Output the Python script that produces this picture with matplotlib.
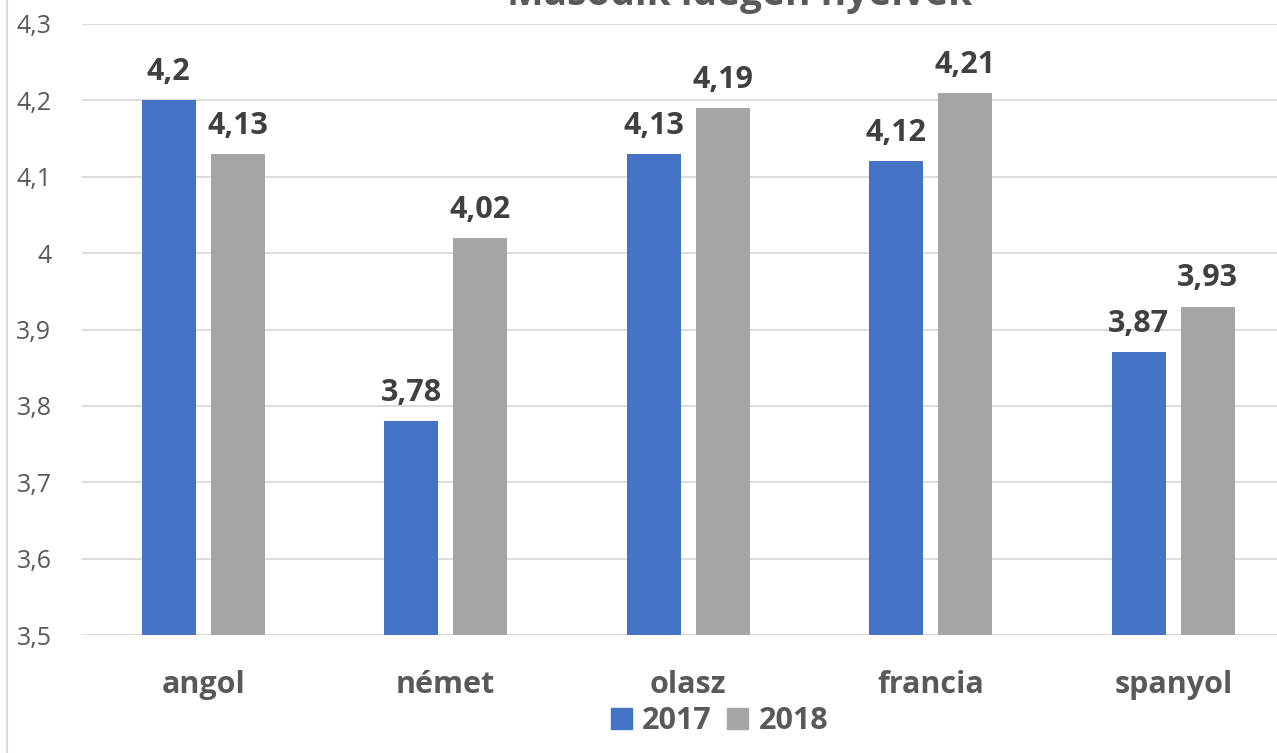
import matplotlib
matplotlib.use('Agg')
import matplotlib.pyplot as plt
from matplotlib.lines import Line2D
from matplotlib.patches import Patch
from matplotlib.ticker import FuncFormatter, MultipleLocator
import numpy as np

plt.rcParams['font.family'] = ['Open Sans', 'DejaVu Sans']

# Data
categories = ['angol', 'német', 'olasz', 'francia', 'spanyol']
years = ['2017', '2018']
values_2017 = [4.2, 3.78, 4.13, 4.12, 3.87]
values_2018 = [4.13, 4.02, 4.19, 4.21, 3.93]
title = 'Második idegen nyelvek'

colors = ['#4472C4', '#A5A5A5']
label_col = '#404040'
axis_col = '#595959'
grid_col = '#D9D9D9'

def hu(v):
    # Hungarian decimal comma
    return f'{round(v, 2):g}'.replace('.', ',')

fig = plt.figure(figsize=(12.77, 7.53), dpi=100)
ax = fig.add_axes([82 / 1277, 118 / 753, 1 - 82 / 1277, (729 - 118) / 753])

x = np.arange(len(categories))
width = 0.223
offset = 0.142
for vals, col, sign, name in [(values_2017, colors[0], -1, years[0]),
                              (values_2018, colors[1], 1, years[1])]:
    bars = ax.bar(x + sign * offset, np.array(vals) - 3.5, width, bottom=3.5,
                  color=col, label=name, zorder=2)
    for xi, v in zip(x + sign * offset, vals):
        ax.annotate(hu(v), xy=(xi, v), xytext=(0, 14.5), textcoords='offset points',
                    ha='center', va='baseline', fontsize=22, fontweight='bold',
                    color=label_col)

# category labels below the axis
for xi, cat in zip(x, categories):
    ax.annotate(cat, xy=(xi, 0), xycoords=('data', 'axes fraction'),
                xytext=(0, -42), textcoords='offset points', ha='center',
                va='baseline', fontsize=22, fontweight='bold', color=axis_col,
                annotation_clip=False)

ax.set_xlim(-0.5, -0.5 + (1277 - 82) / 242.5)
ax.set_ylim(3.5, 4.3)
ax.yaxis.set_major_locator(MultipleLocator(0.1))
ax.yaxis.set_major_formatter(FuncFormatter(lambda v, p: hu(v)))
ax.set_xticks([])
ax.tick_params(axis='y', length=0, pad=22, labelsize=18, labelcolor=axis_col)
ax.grid(axis='y', color=grid_col, lw=1.3, zorder=0)
for s in ax.spines.values():
    s.set_visible(False)

# title (partly cut off at the top in the original)
fig.text(0.579, 1 - 5 / 753, title, ha='center', va='baseline', fontsize=28,
         fontweight='bold', color=axis_col)

# legend
handles = [Patch(color=c) for c in colors]
leg = fig.legend(handles, years, loc='center', bbox_to_anchor=(0.5634, 0.0425),
                 ncol=2, frameon=False, borderpad=0, handlelength=0.69,
                 handleheight=0.69, handletextpad=0.33, columnspacing=0.5,
                 prop={'size': 22, 'weight': 'bold'})
for t in leg.get_texts():
    t.set_color(axis_col)

# chart border on the left
fig.add_artist(Line2D([7 / 1277, 7 / 1277], [0, 1], color=grid_col, lw=1.5))

fig.savefig('out.png', dpi=100)
